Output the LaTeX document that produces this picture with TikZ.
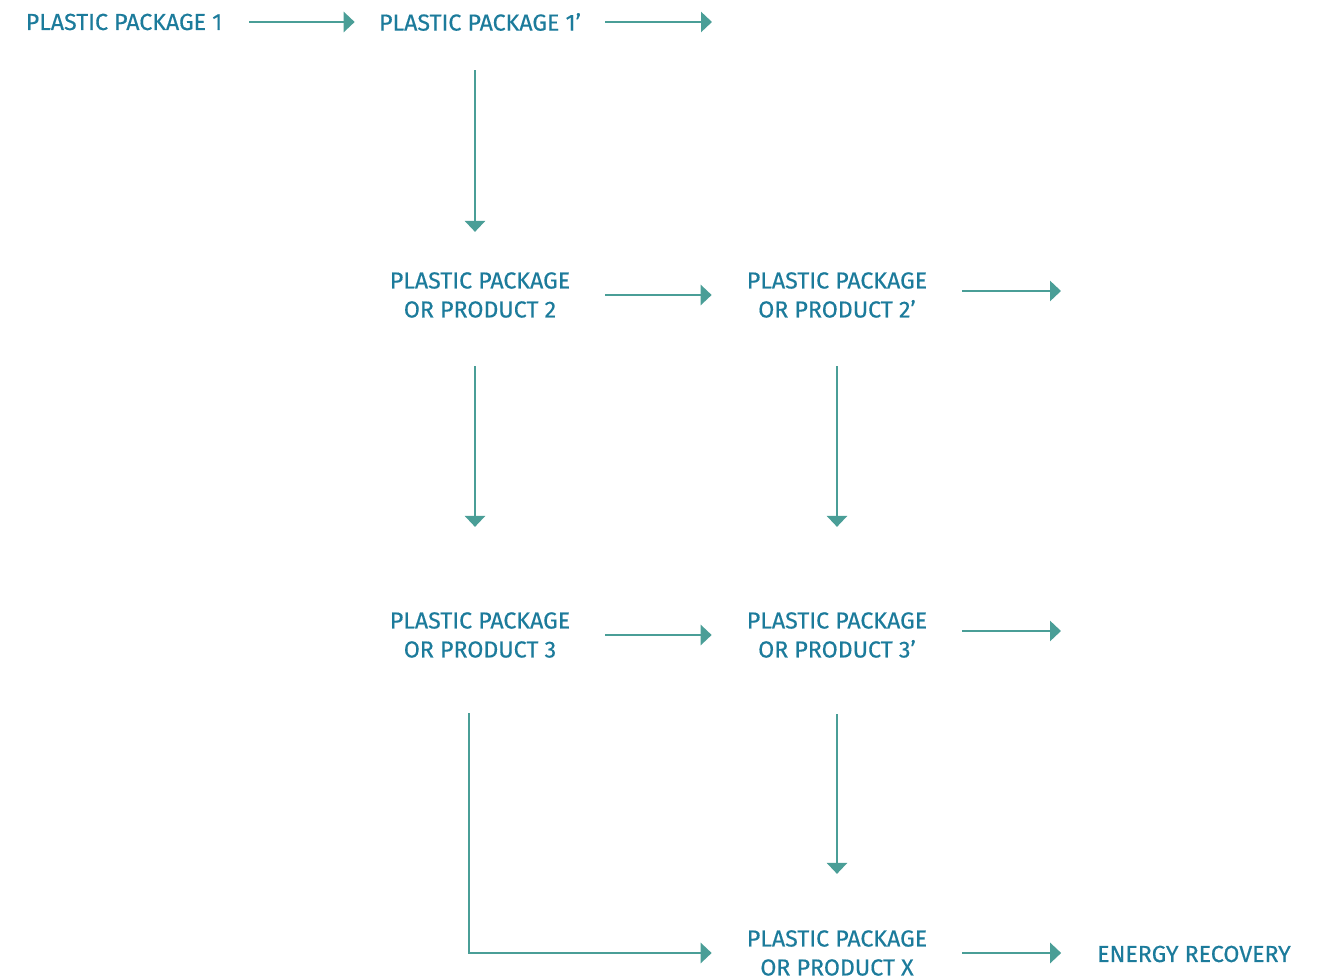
\documentclass[tikz,border=0pt]{standalone}
\usepackage{fontspec}
\setmainfont{Fira Sans}[FakeBold=0.4]
\usepackage{tikz}
\usetikzlibrary{arrows.meta, positioning}
\definecolor{labelBlue}{HTML}{1C7B9B}
\definecolor{arrowTeal}{HTML}{4A9E97}

\begin{document}
\begin{tikzpicture}[x=0.02cm, y=-0.02cm,
	packText/.style={text=labelBlue, font=\fontsize{13.2}{16.5}\selectfont, align=center, inner sep=0pt, minimum width=5cm},
	flow/.style={draw=arrowTeal, line width=1.6pt, -{Triangle[length=0.22cm, width=0.4cm]}}]
	\useasboundingbox (0,0) rectangle (1323,979);

	\node[packText] (packOne) at (124,22) {PLASTIC PACKAGE 1};
	\node[packText] (packOnePrime) at (480,22) {PLASTIC PACKAGE 1’};
	\node[packText] (packTwo) at (480,295) {PLASTIC PACKAGE\\OR PRODUCT 2};
	\node[packText] (packTwoPrime) at (837,295) {PLASTIC PACKAGE\\OR PRODUCT 2’};
	\node[packText] (packThree) at (480,635) {PLASTIC PACKAGE\\OR PRODUCT 3};
	\node[packText] (packThreePrime) at (837,635) {PLASTIC PACKAGE\\OR PRODUCT 3’};
	\node[packText] (packX) at (837,953) {PLASTIC PACKAGE\\OR PRODUCT X};
	\node[packText, minimum width=5.3cm] (energy) at (1194,954) {ENERGY RECOVERY};

	\coordinate (outOne) at (712,22);
	\coordinate (outTwo) at (1061,291);
	\coordinate (outThree) at (1061,631);

	% across
	\draw[flow] (packOne.east) to (packOnePrime.west);
	\draw[flow] (packOnePrime.east) to (outOne);
	\draw[flow] (packTwo.east) to (packTwoPrime.west);
	\draw[flow] (packTwoPrime.east |- outTwo) to (outTwo);
	\draw[flow] (packThree.east) to (packThreePrime.west);
	\draw[flow] (packThreePrime.east |- outThree) to (outThree);
	\draw[flow] (packX.east) to (packX.east -| energy.west);

	% down
	\draw[flow, shorten <=0.78cm, shorten >=0.8cm] ([xshift=-0.1cm]packOnePrime.south) to ([xshift=-0.1cm]packTwo.north);
	\draw[flow, shorten <=0.96cm, shorten >=1.7cm] ([xshift=-0.1cm]packTwo.south) to ([xshift=-0.1cm]packThree.north);
	\draw[flow, shorten <=0.96cm, shorten >=1.7cm] (packTwoPrime.south) to (packThreePrime.north);
	\draw[flow, shorten <=1.12cm, shorten >=1.12cm] (packThreePrime.south) to (packX.north);
	\draw[flow, shorten <=1.1cm] ([xshift=-0.22cm]packThree.south) |- (packX.west);
\end{tikzpicture}
\end{document}
